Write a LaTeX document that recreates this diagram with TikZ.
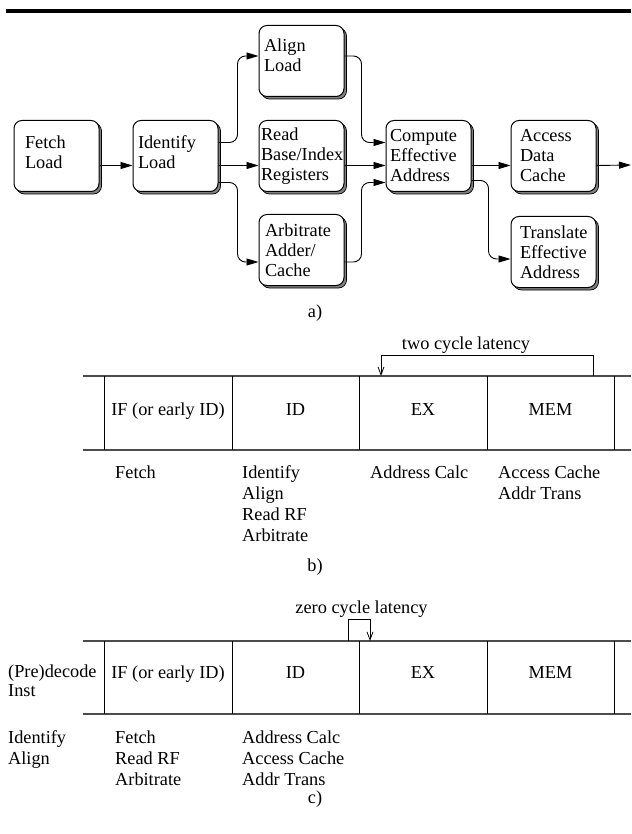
\documentclass[tikz,border=0pt]{standalone}
\usepackage{fontspec}
\setmainfont{Liberation Serif}
\usetikzlibrary{arrows.meta,positioning,shadows}

\begin{document}
\begin{tikzpicture}[
  x=1pt,y=-1pt,
  every node/.style={font=\fontsize{18.3}{20}\selectfont},
  stage/.style={draw,line width=1pt,rounded corners=8pt,fill=white,align=left,
    text width=75pt,inner xsep=5pt,inner ysep=3pt,minimum height=71pt,
    general shadow={fill=gray,draw=black,line width=0.7pt,shadow xshift=2.5pt,shadow yshift=-2.5pt}},
  flow/.style={-{Triangle[length=12pt,width=7pt]},line width=0.9pt,rounded corners=8pt},
  lat/.style={-{Straight Barb[length=8pt,width=6pt]},line width=0.8pt},
  rail/.style={line width=1.5pt,black!70},
  post/.style={line width=0.9pt},
  cell/.style={inner sep=0pt,text height=12.5pt,text depth=3.5pt},
  note/.style={anchor=north west,inner sep=0pt,align=left,font=\fontsize{18.3}{21}\selectfont},
  tag/.style={inner sep=0pt}
]
\useasboundingbox (0,0) rectangle (631,834);
\draw[line width=4pt] (6,11.3) -- (631,11.3);

\node[stage,inner xsep=11pt,text width=63pt,text depth=28pt] (fetch) at (56.5,156) {Fetch\\Load};
\node[stage,right=33pt of fetch,text depth=28pt] (ident) {Identify\\Load};
\node[stage,right=40pt of ident,inner xsep=2pt,text width=81pt] (read) {Read\\Base/Index\\Registers};
\node[stage,above=23pt of read,text depth=32pt] (align) {Align\\Load};
\node[stage,below=22pt of read,inner xsep=6pt,text width=73pt] (arb) {Arbitrate\\Adder/\\Cache};
\node[stage,right=41pt of read,inner xsep=4pt,text width=77pt] (comp) {Compute\\Effective\\Address};
\node[stage,right=39pt of comp,inner xsep=9pt,text width=67pt] (access) {Access\\Data\\Cache};
\node[stage,below=24pt of access,inner xsep=9pt,text width=67pt] (trans) {Translate\\Effective\\Address};
\coordinate (out) at (631,165);
\draw[flow] ([yshift=-9.5pt]fetch.east) -- ([yshift=-9.5pt]ident.west);
\draw[flow] ([yshift=-9.5pt]ident.east) -- ([yshift=-9.5pt]read.west);
\draw[flow] ([yshift=13.5pt]ident.east) -- ++(19,0) |- ([yshift=5pt]align.west);
\draw[flow] ([yshift=-26.5pt]ident.east) -- ++(19,0) |- ([yshift=-12pt]arb.west);
\draw[flow] ([yshift=5pt]align.east) -- ++(17,0) |- ([yshift=13.5pt]comp.west);
\draw[flow] ([yshift=-9.5pt]read.east) -- ([yshift=-9.5pt]comp.west);
\draw[flow] ([yshift=-12pt]arb.east) -- ++(17,0) |- ([yshift=-26.5pt]comp.west);
\draw[flow] ([yshift=-9.5pt]comp.east) -- ([yshift=-9.5pt]access.west);
\draw[flow] ([yshift=-9.5pt]access.east) -- (out);
\draw[flow] ([yshift=-24.5pt]comp.east) -- ++(17,0) |- ([yshift=-7pt]trans.west);
\node[tag] (capa) at (315,313) {a)};

\draw[rail] (83,376) -- (631,376);
\draw[rail] (83,450) -- (631,450);
\foreach \x in {104,232,359,487,614} \draw[post] (\x,376) -- (\x,450);
\node[cell] (bif) at (168,410.5) {IF (or early ID)};
\node[cell] (bid) at (295.5,410.5) {ID};
\node[cell] (bex) at (423,410.5) {EX};
\node[cell] (bmem) at (550.5,410.5) {MEM};
\node[note] (bnif) at (115,465.5) {Fetch};
\node[note] (bnid) at (242,465.5) {Identify\\Align\\Read RF\\Arbitrate};
\node[note] (bnex) at (370,465.5) {Address Calc};
\node[note] (bnmem) at (498,465.5) {Access Cache\\Addr Trans};
\node[tag] (twolat) at (466,345) {two cycle latency};
\coordinate (bfrom) at (593,376);
\coordinate (bto) at (381,376);
\draw[lat] (bfrom) -- ++(0,-21) -| (bto);
\node[tag] (capb) at (315,567) {b)};

\draw[rail] (83,641) -- (631,641);
\draw[rail] (83,714) -- (631,714);
\foreach \x in {104,232,359,487,614} \draw[post] (\x,641) -- (\x,714);
\node[note,font=\fontsize{18.3}{18.3}\selectfont] (cpre) at (8,665) {(Pre)decode\\Inst};
\node[cell] (cif) at (168,674) {IF (or early ID)};
\node[cell] (cid) at (295.5,674) {ID};
\node[cell] (cex) at (423,674) {EX};
\node[cell] (cmem) at (550.5,674) {MEM};
\node[note] (cnpre) at (8,730.5) {Identify\\Align};
\node[note] (cnif) at (115,730.5) {Fetch\\Read RF\\Arbitrate};
\node[note] (cnid) at (242,730.5) {Address Calc\\Access Cache\\Addr Trans};
\node[tag] (zerolat) at (361.5,609) {zero cycle latency};
\coordinate (cfrom) at (348,641);
\coordinate (cto) at (370,641);
\draw[lat] (cfrom) -- ++(0,-22) -| (cto);
\node[tag] (capc) at (315,799) {c)};
\end{tikzpicture}
\end{document}
